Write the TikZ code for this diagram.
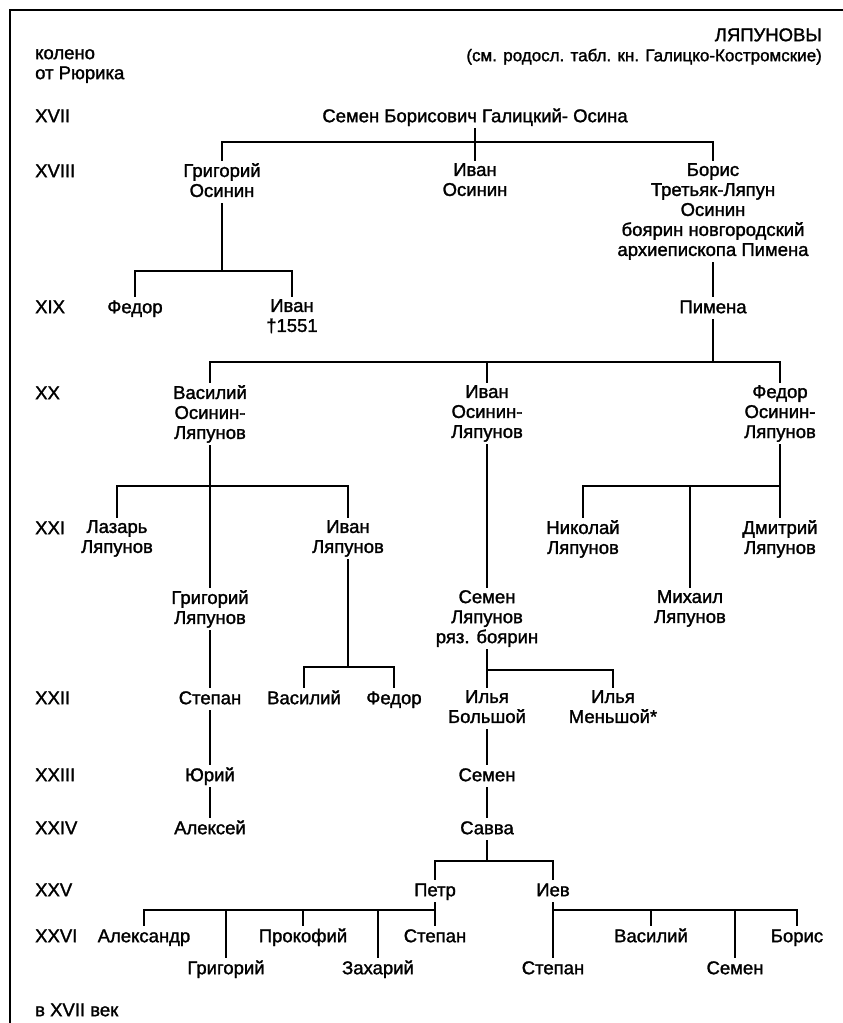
\documentclass[tikz,border=0pt]{standalone}
\usepackage{fontspec}
\setmainfont{Liberation Sans}
\newfontfamily\treefont{Liberation Sans}[FakeBold=1.5]
\newcommand\pfont{\treefont\fontsize{18.5}{20}\selectfont}
\newcommand\subfont{\treefont\fontsize{17}{20}\selectfont}
\begin{document}
\begin{tikzpicture}[x=1pt,y=-1pt,
  pers/.style={anchor=north,yshift=8pt,inner sep=0pt,align=center,font=\pfont,
    execute at begin node=\strut,execute at end node=\strut},
  lab/.style={pers,anchor=north west,align=left},
  ln/.style={line width=1.2pt},
  dn/.style={ln,shorten >=2pt}]
\useasboundingbox (0,0) rectangle (843,1023);
\draw[line width=1.6pt] (10,1023) |- (843,10);
% header
\node[pers,anchor=north east] (title) at (822,35) {ЛЯПУНОВЫ};
\node[pers,anchor=north east,font=\subfont] (sub) at (822,55) {(см. родосл. табл. кн. Галицко-Костромские)};
\node[lab] (koleno) at (35,57) {колено\\от Рюрика};
% generation labels
\node[lab] (r17) at (35,116) {XVII};
\node[lab] (r18) at (35,171) {XVIII};
\node[lab] (r19) at (35,307) {XIX};
\node[lab] (r20) at (35,393) {XX};
\node[lab] (r21) at (35,528) {XXI};
\node[lab] (r22) at (35,698) {XXII};
\node[lab] (r23) at (35,775) {XXIII};
\node[lab] (r24) at (35,828) {XXIV};
\node[lab] (r25) at (35,890) {XXV};
\node[lab] (r26) at (35,936) {XXVI};
\node[lab] (foot) at (35,1010) {в XVII век};
% persons
\node[pers] (s17) at (475,116) {Семен Борисович Галицкий- Осина};
\node[pers] (g18) at (222,171) {Григорий\\Осинин};
\node[pers] (i18) at (475,171) {Иван\\Осинин};
\node[pers] (b18) at (713,171) {Борис\\Третьяк-Ляпун\\Осинин\\боярин новгородский\\архиепископа Пимена};
\node[pers] (f19) at (135,307) {Федор};
\node[pers] (i19) at (292,307) {Иван\\†1551};
\node[pers] (p19) at (713,307) {Пимена};
\node[pers] (v20) at (210,393) {Василий\\Осинин-\\Ляпунов};
\node[pers] (i20) at (487,393) {Иван\\Осинин-\\Ляпунов};
\node[pers] (f20) at (780,393) {Федор\\Осинин-\\Ляпунов};
\node[pers] (l21) at (117,528) {Лазарь\\Ляпунов};
\node[pers] (i21) at (348,528) {Иван\\Ляпунов};
\node[pers] (n21) at (583,528) {Николай\\Ляпунов};
\node[pers] (d21) at (780,528) {Дмитрий\\Ляпунов};
\node[pers] (g21) at (210,598) {Григорий\\Ляпунов};
\node[pers] (s21) at (487,598) {Семен\\Ляпунов\\ряз. боярин};
\node[pers] (m21) at (690,598) {Михаил\\Ляпунов};
\node[pers] (st22) at (210,698) {Степан};
\node[pers] (va22) at (304,698) {Василий};
\node[pers] (fe22) at (394,698) {Федор};
\node[pers] (il22) at (487,698) {Илья\\Большой};
\node[pers] (im22) at (613,698) {Илья\\Меньшой*};
\node[pers] (yu23) at (210,775) {Юрий};
\node[pers] (se23) at (487,775) {Семен};
\node[pers] (al24) at (210,828) {Алексей};
\node[pers] (sa24) at (487,828) {Савва};
\node[pers] (pe25) at (435,890) {Петр};
\node[pers] (ie25) at (553,890) {Иев};
\node[pers] (c1) at (144,936) {Александр};
\node[pers] (c2) at (226,968) {Григорий};
\node[pers] (c3) at (303,936) {Прокофий};
\node[pers] (c4) at (378,968) {Захарий};
\node[pers] (c5) at (435,936) {Степан};
\node[pers] (e1) at (553,968) {Степан};
\node[pers] (e2) at (651,936) {Василий};
\node[pers] (e3) at (735,968) {Семен};
\node[pers] (e4) at (797,936) {Борис};
% connectors
\coordinate (j1) at (475,142);
\draw[ln] (s17.south) -- (j1);
\draw[dn] (j1) -| (g18.north);
\draw[dn] (j1) -| (b18.north);
\draw[dn] (j1) -- (i18.north);
\coordinate (j2) at (222,271);
\draw[ln] (g18.south) -- (j2);
\draw[dn] (j2) -| (f19.north);
\draw[dn] (j2) -| (i19.north);
\draw[dn] (b18.south) -- (p19.north);
\coordinate (j3) at (713,362);
\draw[ln] (p19.south) -- (j3);
\draw[dn] (j3) -| (v20.north);
\draw[dn] (j3) -| (f20.north);
\draw[dn] (i20.north |- j3) -- (i20.north);
\draw[dn] (v20.south) -- (g21.north);
\coordinate (j4) at (210,486);
\draw[dn] (j4) -| (l21.north);
\draw[dn] (j4) -| (i21.north);
\draw[dn] (i20.south) -- (s21.north);
\draw[dn] (f20.south) -- (d21.north);
\coordinate (j5) at (780,486);
\draw[dn] (j5) -| (n21.north);
\draw[dn] (m21.north |- j5) -- (m21.north);
\coordinate (j6) at (348,667);
\draw[ln] (i21.south) -- (j6);
\draw[dn] (j6) -| (va22.north);
\draw[dn] (j6) -| (fe22.north);
\draw[dn] (s21.south) -- (il22.north);
\coordinate (j7) at (487,670);
\draw[dn] (j7) -| (im22.north);
\draw[dn] (g21.south) -- (st22.north);
\draw[dn] (st22.south) -- (yu23.north);
\draw[dn] (yu23.south) -- (al24.north);
\draw[dn] (il22.south) -- (se23.north);
\draw[dn] (se23.south) -- (sa24.north);
\coordinate (j8) at (487,861);
\draw[ln] (sa24.south) -- (j8);
\draw[dn] (j8) -| (pe25.north);
\draw[dn] (j8) -| (ie25.north);
\draw[dn] (pe25.south) -- (c5.north);
\coordinate (j9) at (435,910);
\draw[dn] (j9) -| (c1.north);
\draw[dn] (c2.north |- j9) -- (c2.north);
\draw[dn] (c3.north |- j9) -- (c3.north);
\draw[dn] (c4.north |- j9) -- (c4.north);
\draw[dn] (ie25.south) -- (e1.north);
\coordinate (j10) at (553,910);
\draw[dn] (e2.north |- j10) -- (e2.north);
\draw[dn] (e3.north |- j10) -- (e3.north);
\draw[dn] (j10) -| (e4.north);
\end{tikzpicture}
\end{document}
